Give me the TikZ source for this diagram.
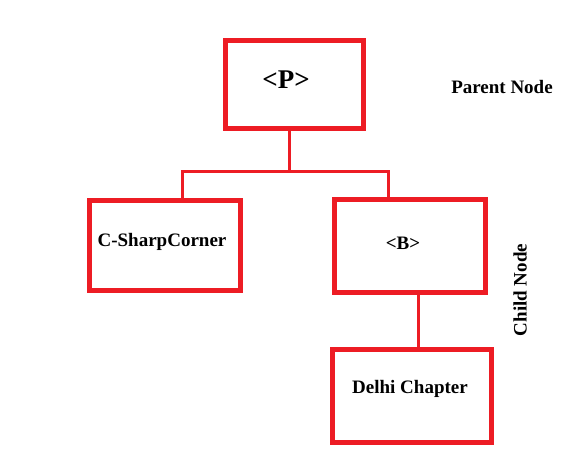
\documentclass[tikz,border=0pt]{standalone}
\usepackage{fontspec}
\setmainfont{Liberation Serif}
\definecolor{boxred}{RGB}{237,28,36}
\begin{document}
\begin{tikzpicture}[x=1pt,y=-1pt,
  redbox/.style={draw=boxred,line width=5pt,fill=white,inner sep=0pt},
  conn/.style={draw=boxred,line width=3pt},
  lbl/.style={inner sep=0pt,text=black,font=\bfseries\fontsize{19}{22}\selectfont}]
\useasboundingbox[fill=white] (0,0) rectangle (572,456);
% boxes
\node[redbox,minimum width=138pt,minimum height=88pt] (P) at (294.5,84.5) {};
\node[redbox,minimum width=151pt,minimum height=90pt] (CS) at (165,245.5) {};
\node[redbox,minimum width=151pt,minimum height=93pt] (B) at (410,246) {};
\node[redbox,minimum width=159pt,minimum height=93pt] (D) at (412,396) {};
% connectors
\coordinate (j) at (289,171);
\coordinate (jl) at (182,171);
\coordinate (jr) at (388,171);
\draw[conn] (P.south -| j) -- (j);
\draw[conn] (CS.north -| jl) -- (jl) -- (jr) -- (B.north -| jr);
\coordinate (bd) at (418,300);
\draw[conn] (B.south -| bd) -- (D.north -| bd);
% texts
\node[lbl,font=\bfseries\fontsize{27}{30}\selectfont] (tP) at (286,80) {<P>};
\node[lbl] (tCS) at (162,242) {C-SharpCorner};
\node[lbl] (tB) at (403,243) {<B>};
\node[lbl] (tD) at (410,389) {Delhi Chapter};
\node[lbl] (tPN) at (502,87) {Parent Node};
\node[lbl,rotate=90] (tCN) at (520,290) {Child Node};
\end{tikzpicture}
\end{document}
